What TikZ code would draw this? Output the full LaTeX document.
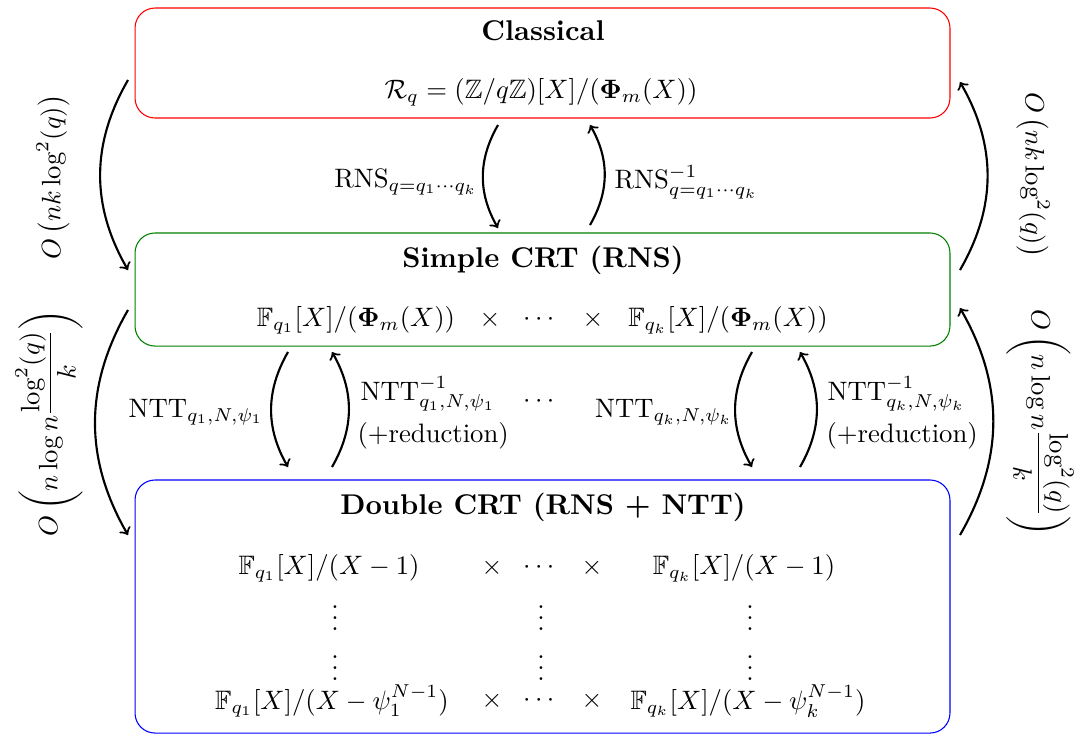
\documentclass[tikz,border=0pt]{standalone}
\usepackage{amsmath,amssymb}
\begin{document}
\begin{tikzpicture}[x=0.375pt,y=-0.375pt,
  box/.style={draw, rounded corners=7.5pt, minimum width=305.6pt},
  title/.style={font=\fontsize{10.7}{13}\bfseries},
  arr/.style={->, thick},
  lbl/.style={inner sep=0pt},
  cell/.style={inner sep=0pt}]
\useasboundingbox (0,0) rectangle (1075,735);
% boxes
\node[box, draw=red, minimum height=41.25pt] (cl) at (542.5,63) {};
\node[box, draw=green!50!black, minimum height=42.4pt] (sc) at (542.5,289.5) {};
\node[box, draw=blue, minimum height=94.9pt] (dc) at (542.5,606.5) {};
% classical
\node[title] (clt) at (543,31) {Classical};
\node (clf) at (541,92) {$\mathcal{R}_q = (\mathbb{Z}/q\mathbb{Z})[X]/(\boldsymbol{\Phi}_m(X))$};
% simple
\node[title] (sct) at (543,260) {Simple CRT (RNS)};
\node[cell] (sc1) at (356,320) {$\mathbb{F}_{q_1}[X]/(\boldsymbol{\Phi}_m(X))$};
\node[cell] (scx1) at (490,320) {$\times$};
\node[cell] (scd) at (541,320) {$\cdots$};
\node[cell] (scx2) at (593,320) {$\times$};
\node[cell] (sck) at (728,320) {$\mathbb{F}_{q_k}[X]/(\boldsymbol{\Phi}_m(X))$};
% double
\node[title] (dct) at (543,507) {Double CRT (RNS + NTT)};
\node[cell] (r1a) at (329,568) {$\mathbb{F}_{q_1}[X]/(X-1)$};
\node[cell] (r1x) at (492,568) {$\times$};
\node[cell] (r1d) at (541,568) {$\cdots$};
\node[cell] (r1y) at (592,568) {$\times$};
\node[cell] (r1b) at (744,568) {$\mathbb{F}_{q_k}[X]/(X-1)$};
\node[cell] (v1a) at (335,610) {$\vdots$};
\node[cell] (v1b) at (541,610) {$\vdots$};
\node[cell] (v1c) at (750,610) {$\vdots$};
\node[cell] (v2a) at (335,660) {$\vdots$};
\node[cell] (v2b) at (541,660) {$\vdots$};
\node[cell] (v2c) at (750,660) {$\vdots$};
\node[cell] (r2a) at (332,701) {$\mathbb{F}_{q_1}[X]/(X-\psi_1^{N-1})$};
\node[cell] (r2x) at (492,701) {$\times$};
\node[cell] (r2d) at (541,701) {$\cdots$};
\node[cell] (r2y) at (592,701) {$\times$};
\node[cell] (r2b) at (748,701) {$\mathbb{F}_{q_k}[X]/(X-\psi_k^{N-1})$};
% arrow end points
\coordinate (a1s) at (498,125); \coordinate (a1e) at (498,228);
\coordinate (a2s) at (590,225); \coordinate (a2e) at (590,125);
\coordinate (l1s) at (128,80);  \coordinate (l1e) at (128,270);
\coordinate (r1s) at (960,270); \coordinate (r1e) at (960,82);
\coordinate (l2s) at (128,310); \coordinate (l2e) at (128,535);
\coordinate (r2s) at (960,535); \coordinate (r2e) at (960,308);
\coordinate (n1s) at (288,352); \coordinate (n1e) at (288,467);
\coordinate (m1s) at (332,467); \coordinate (m1e) at (332,352);
\coordinate (n2s) at (752,352); \coordinate (n2e) at (752,467);
\coordinate (m2s) at (800,467); \coordinate (m2e) at (800,352);
% arrows
\draw[arr] (a1s) to[bend right=30] (a1e);
\draw[arr] (a2s) to[bend right=30] (a2e);
\draw[arr] (l1s) to[bend right=30] (l1e);
\draw[arr] (r1s) to[bend right=30] (r1e);
\draw[arr] (l2s) to[bend right=30] (l2e);
\draw[arr] (r2s) to[bend right=30] (r2e);
\draw[arr] (n1s) to[bend right=30] (n1e);
\draw[arr] (m1s) to[bend right=30] (m1e);
\draw[arr] (n2s) to[bend right=30] (n2e);
\draw[arr] (m2s) to[bend right=30] (m2e);
% labels
\node[lbl, anchor=east] (rns) at (478,182) {$\mathrm{RNS}_{q=q_1\cdots q_k}$};
\node[lbl, anchor=west] (rnsi) at (614,182) {$\mathrm{RNS}^{-1}_{q=q_1\cdots q_k}$};
\node[lbl, anchor=east] (ntt1) at (264,412) {$\mathrm{NTT}_{q_1,N,\psi_1}$};
\node[lbl, anchor=west] (ntti1) at (360,394) {$\mathrm{NTT}^{-1}_{q_1,N,\psi_1}$};
\node[lbl, anchor=west] (red1) at (357,436) {(+reduction)};
\node (ndots) at (541,402) {$\cdots$};
\node[lbl, anchor=east] (ntt2) at (733,412) {$\mathrm{NTT}_{q_k,N,\psi_k}$};
\node[lbl, anchor=west] (ntti2) at (827,394) {$\mathrm{NTT}^{-1}_{q_k,N,\psi_k}$};
\node[lbl, anchor=west] (red2) at (826,436) {(+reduction)};
\node[lbl, rotate=90] (cl1) at (53,177) {$O\left(nk\log^2(q)\right)$};
\node[lbl, rotate=-90] (cr1) at (1033,175) {$O\left(nk\log^2(q)\right)$};
\node[lbl, rotate=90] (cl2) at (49,423) {$O\left(n\log n\dfrac{\log^2(q)}{k}\right)$};
\node[lbl, rotate=-90] (cr2) at (1040,423) {$O\left(n\log n\dfrac{\log^2(q)}{k}\right)$};
\end{tikzpicture}
\end{document}
